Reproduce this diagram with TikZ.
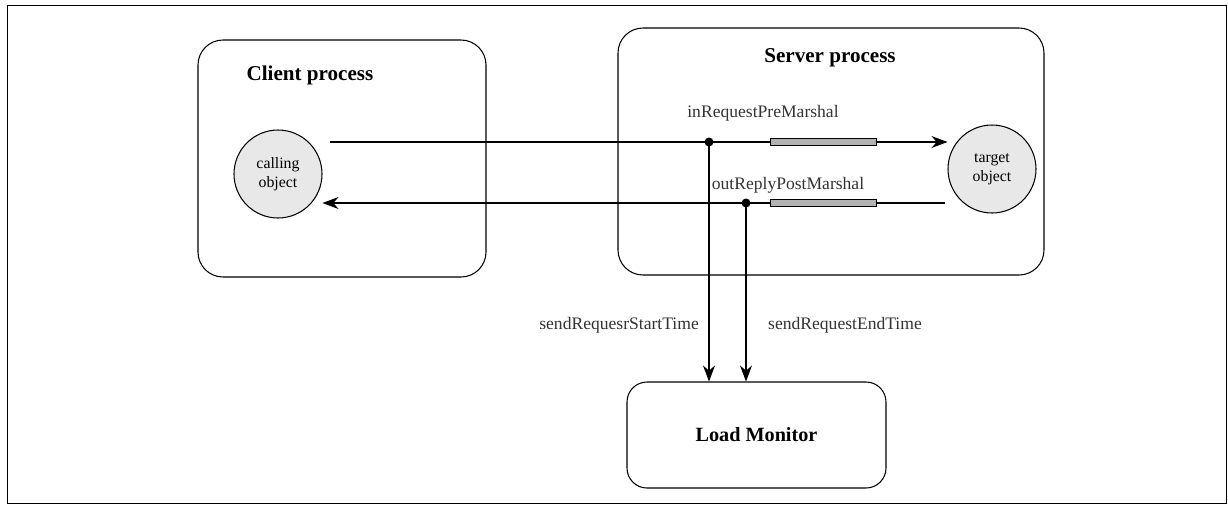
\documentclass[tikz,border=0pt]{standalone}
\usepackage{fontspec}
\setmainfont{Liberation Serif}
\usepackage{tikz}
\usetikzlibrary{arrows.meta,positioning}

\begin{document}
\begin{tikzpicture}[
        >={Stealth[length=3.2mm,width=2.4mm]},
        procbox/.style={draw,semithick,rounded corners=0.5cm},
        obj/.style={circle,draw,semithick,fill=gray!18,minimum size=1.76cm,inner sep=0pt,align=center,font=\fontsize{9}{10.5}\selectfont},
        probe/.style={draw,fill=gray!60,minimum width=2.12cm,minimum height=0.13cm,inner sep=0pt},
        lbl/.style={font=\fontsize{10}{12}\selectfont,text=black!80},
        ttl/.style={font=\fontsize{12}{14}\selectfont\bfseries}]
        \useasboundingbox (0,0) rectangle (24.56,-10.12);
        \draw [black] (0.14,-0.10) rectangle (24.52,-10.06);
        % process boxes
        \draw [procbox] (3.96,-0.80) rectangle (9.72,-5.54);
        \draw [procbox] (12.36,-0.56) rectangle (20.88,-5.50);
        \node [ttl] (client) at (6.20,-1.50) {Client process};
        \node [ttl] (server) at (16.60,-1.16) {Server process};
        \node [draw,semithick,rounded corners=0.4cm,minimum width=5.18cm,minimum height=2.12cm,font=\fontsize{11.5}{14}\selectfont\bfseries] (monitor) at (15.13,-8.70) {Load Monitor};
        % objects
        \node [obj] (calling) at (5.56,-3.48) {calling\\object};
        \node [obj] (target) at (19.84,-3.38) {target\\object};
        % request and reply
        \coordinate (reqS) at (6.60,-2.84);
        \coordinate (repS) at (18.90,-4.06);
        \draw [black,semithick,->] (reqS)--(target.west |- reqS);
        \draw [black,semithick,->] (repS)--(calling.east |- repS);
        \node [probe] (reqbar) at (16.46,-2.84) {};
        \node [probe] (repbar) at (16.46,-4.06) {};
        \fill [black] (14.18,-2.84) circle [radius=0.09] coordinate (pre);
        \fill [black] (14.92,-4.06) circle [radius=0.09] coordinate (post);
        \node [lbl] (prelbl) at (15.26,-2.26) {inRequestPreMarshal};
        \node [lbl] (postlbl) at (15.76,-3.70) {outReplyPostMarshal};
        % to the monitor
        \draw [black,semithick,->] (pre)--(monitor.north -| pre);
        \draw [black,semithick,->] (post)--(monitor.north -| post);
        \node [lbl,anchor=east] (startlbl) at (14.10,-6.50) {sendRequesrStartTime};
        \node [lbl,anchor=west] (endlbl) at (15.24,-6.50) {sendRequestEndTime};
    \end{tikzpicture}
\end{document}
